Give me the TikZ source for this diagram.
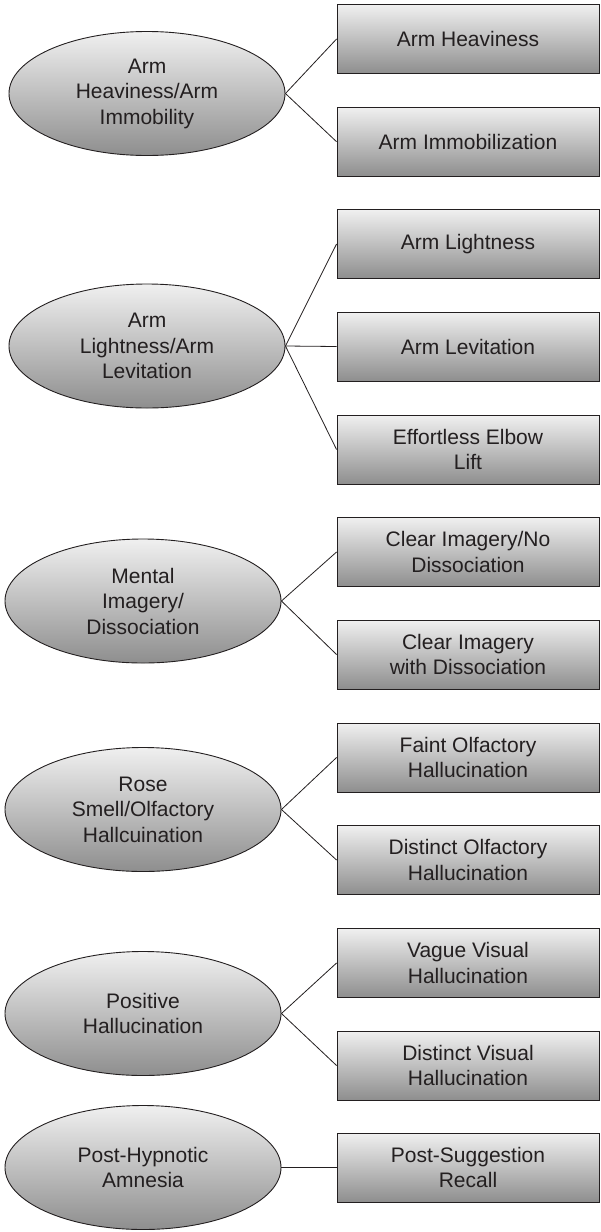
\documentclass[tikz,border=0pt]{standalone}
\usepackage{fontspec}
\setmainfont{Liberation Sans}
\usetikzlibrary{shapes.geometric}
\definecolor{inkc}{HTML}{231F20}
\definecolor{shadetop}{HTML}{F0F0F0}
\definecolor{shadebot}{HTML}{8E8E8E}
\tikzset{
  ability/.style={ellipse, draw=inkc, line width=0.9pt, top color=shadetop, bottom color=shadebot,
    minimum width=276pt, minimum height=124pt, inner sep=0pt, align=center, text=inkc,
    font=\fontsize{21}{25.5}\selectfont},
  itembox/.style={rectangle, draw=inkc, line width=0.9pt, top color=shadetop, bottom color=shadebot,
    minimum width=262pt, minimum height=69pt, inner sep=0pt, align=center, text=inkc,
    font=\fontsize{21}{25.5}\selectfont},
  link/.style={draw=inkc, line width=0.8pt}
}
\begin{document}
\begin{tikzpicture}[x=1pt,y=-1pt]
\useasboundingbox (0,0) rectangle (601,1232);

% category ellipses
\node[ability] (e1) at (147,93.5)   {Arm\\Heaviness/Arm\\Immobility};
\node[ability] (e2) at (147,346)    {Arm\\Lightness/Arm\\Levitation};
\node[ability] (e3) at (143,601)    {Mental\\Imagery/\\Dissociation};
\node[ability] (e4) at (143,809.5)  {Rose\\Smell/Olfactory\\Hallcuination};
\node[ability] (e5) at (143,1013.5) {Positive\\Hallucination};
\node[ability] (e6) at (143,1167.5) {Post-Hypnotic\\Amnesia};

% item boxes
\node[itembox] (b1)  at (468,39)     {Arm Heaviness};
\node[itembox] (b2)  at (468,141.7)  {Arm Immobilization};
\node[itembox] (b3)  at (468,244)    {Arm Lightness};
\node[itembox] (b4)  at (468,346.5)  {Arm Levitation};
\node[itembox] (b5)  at (468,449.5)  {Effortless Elbow\\Lift};
\node[itembox] (b6)  at (468,552)    {Clear Imagery/No\\Dissociation};
\node[itembox] (b7)  at (468,654.5)  {Clear Imagery\\with Dissociation};
\node[itembox] (b8)  at (468,757.5)  {Faint Olfactory\\Hallucination};
\node[itembox] (b9)  at (468,860)    {Distinct Olfactory\\Hallucination};
\node[itembox] (b10) at (468,963)    {Vague Visual\\Hallucination};
\node[itembox] (b11) at (468,1065.5) {Distinct Visual\\Hallucination};
\node[itembox] (b12) at (468,1167.5) {Post-Suggestion\\Recall};

% connectors
\draw[link] (e1.east) -- (b1.west);
\draw[link] (e1.east) -- (b2.west);
\draw[link] (e2.east) -- (b3.west);
\draw[link] (e2.east) -- (b4.west);
\draw[link] (e2.east) -- (b5.west);
\draw[link] (e3.east) -- (b6.west);
\draw[link] (e3.east) -- (b7.west);
\draw[link] (e4.east) -- (b8.west);
\draw[link] (e4.east) -- (b9.west);
\draw[link] (e5.east) -- (b10.west);
\draw[link] (e5.east) -- (b11.west);
\draw[link] (e6.east) -- (b12.west);
\end{tikzpicture}
\end{document}
